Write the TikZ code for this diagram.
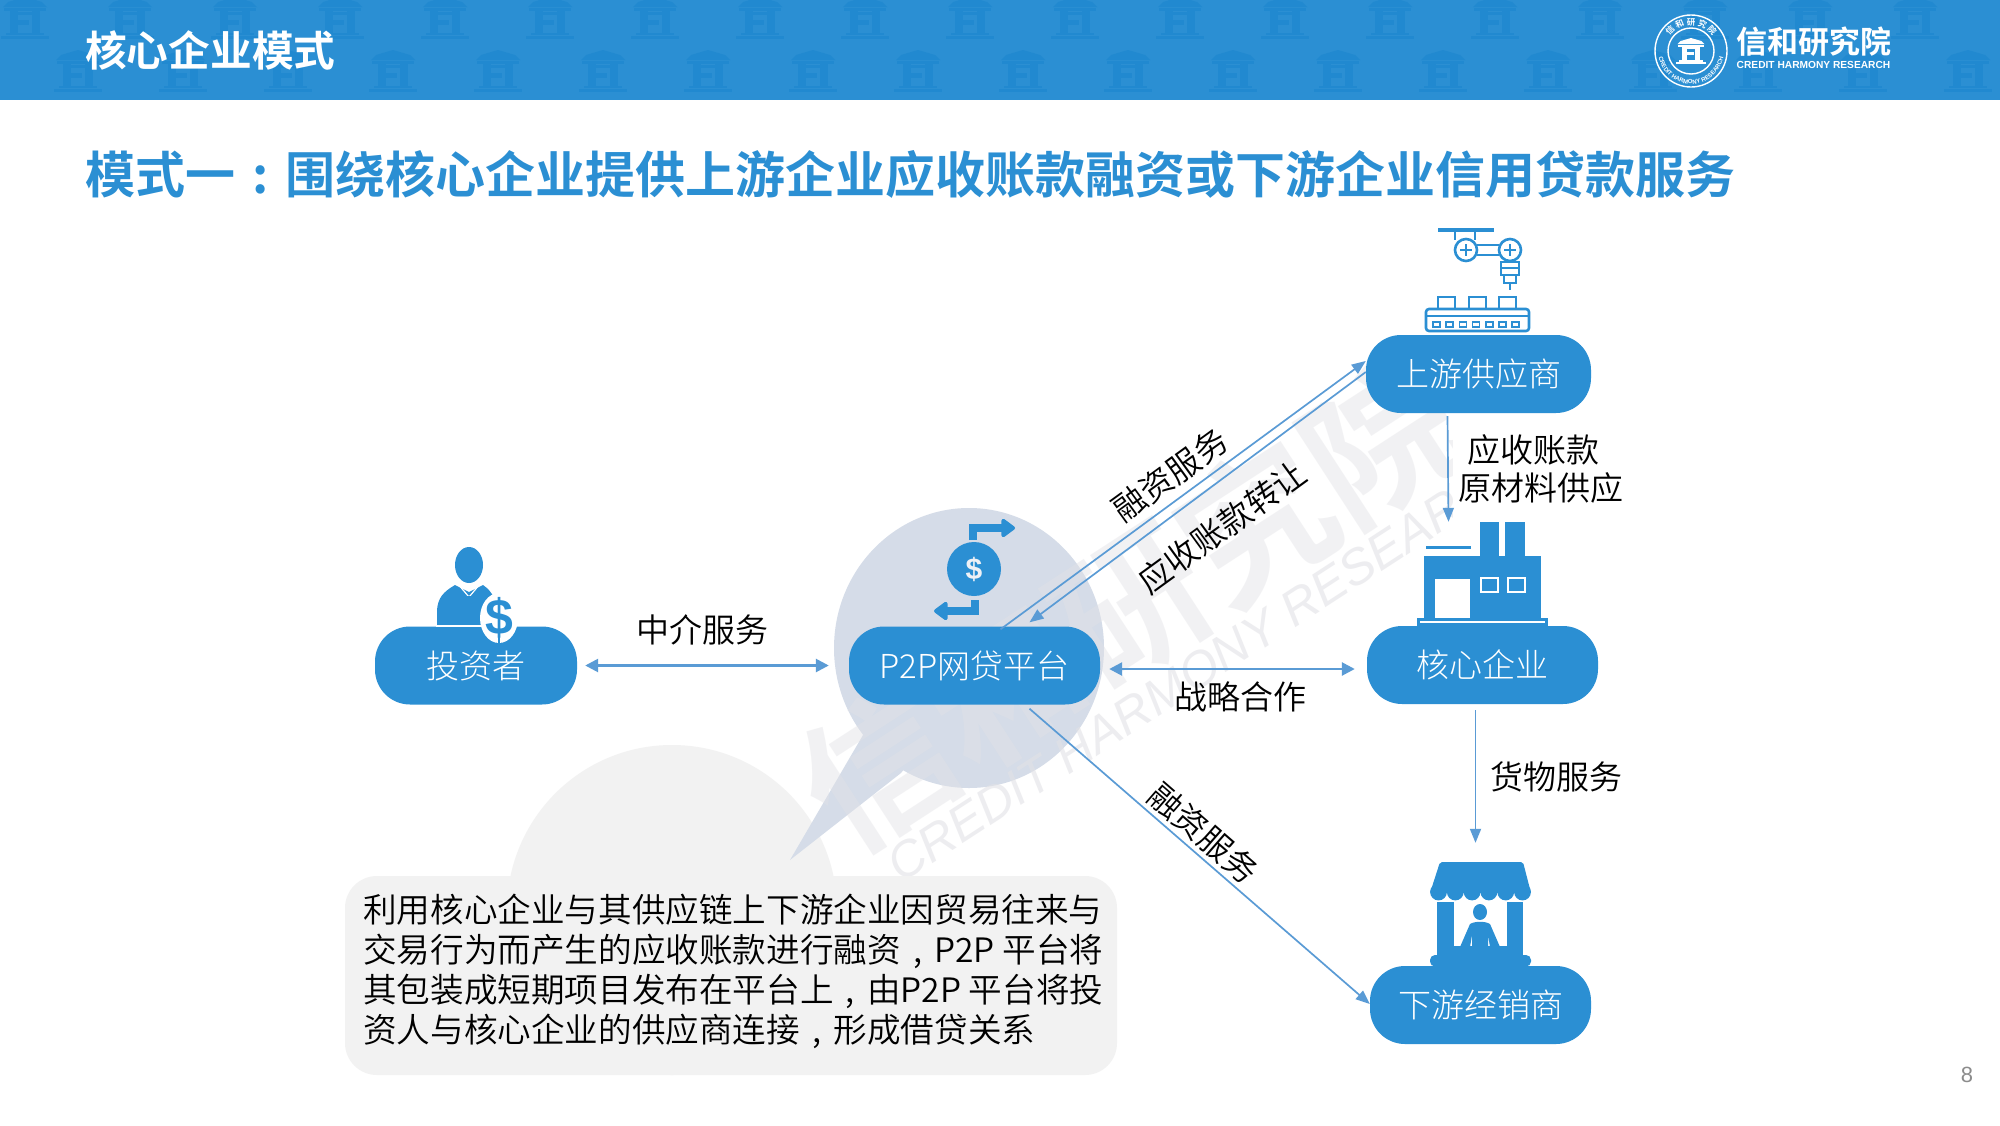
\documentclass[tikz,border=0pt]{standalone}
\usepackage{fontspec}
\setmainfont{Noto Sans CJK SC}[UprightFont=* Light,BoldFont=* Bold]
\newfontfamily\cjkmid{Noto Sans CJK SC DemiLight}
\newfontfamily\latinfont{Liberation Sans}
\usetikzlibrary{arrows.meta,calc,decorations.text}
\definecolor{brand}{HTML}{2B8FD3}
\definecolor{templecol}{HTML}{2189D0}
\definecolor{conn}{HTML}{5A9BD5}
\definecolor{bubble}{HTML}{D5DCE8}
\definecolor{panel}{HTML}{F2F2F2}
\definecolor{wm}{HTML}{E2E2E6}
\newcommand{\fs}[1]{\fontsize{#1}{#1}\selectfont}
\newcommand{\cjkp}[1]{\makebox[1em][c]{#1}}
\tikzset{
  pill/.style={fill=brand,text=white,rounded corners=35pt,minimum height=78pt,inner sep=0pt,font=\fs{33}},
  lab/.style={text=black,inner sep=0pt,font=\cjkmid\fs{33}},
  thinarrow/.style={draw=conn,line width=1.7pt,-{Triangle[length=14pt,width=11pt]}},
  thickarrow/.style={draw=conn,line width=2.6pt,{Triangle[length=13pt,width=13pt]}-{Triangle[length=13pt,width=13pt]}},
  icon/.style={draw=brand,line width=2.6pt},
  temple/.pic={
    \fill[pic actions] (-22,10) -- (-17,5) -- (0,0) -- (17,5) -- (22,10) -- cycle;
    \fill[pic actions] (-21,11) rectangle (21,14);
    \fill[pic actions] (-15,14) rectangle (-7,36);
    \fill[pic actions] (7,14) rectangle (15,36);
    \fill[pic actions] (-7,23) rectangle (4,28);
    \fill[pic actions] (-7,15) rectangle (7,18);
    \fill[pic actions] (-19,36) rectangle (19,38);
    \fill[pic actions] (-24,39) rectangle (24,42);
  }
}
\begin{document}
\begin{tikzpicture}[x=1pt,y=-1pt]
\useasboundingbox (0,0) rectangle (2000,1125);
\fill[white] (0,0) rectangle (2000,1125);
% header
\fill[brand] (0,0) rectangle (2000,100);
\foreach \k in {0,...,18} {
  \pic[fill=templecol] at ({25+105*\k},-3) {temple};
  \pic[fill=templecol] at ({78+105*\k},50) {temple};
}
\node[text=white,anchor=west,inner sep=0pt,font=\fs{41.7}\bfseries] (htitle) at (85,50) {核心企业模式};
% logo
\draw[white,line width=1.4pt] (1691,51) circle[radius=36];
\draw[white,line width=1.4pt] (1691,51) circle[radius=23];
\pic[fill=white,scale=0.62] at (1691,38) {temple};
\begin{scope}[shift={(1691,51)},y=1pt]
\path[decorate,decoration={text along path,text align=center,
  text={|\fs{8.5}\bfseries\color{white}|信 和 研 究 院}}]
  (150:26) arc[start angle=150,end angle=30,radius=26];
\path[decorate,decoration={text along path,text align=center,
  text={|\latinfont\fs{6}\bfseries\color{white}|CREDIT HARMONY RESEARCH}}]
  (195:33) arc[start angle=195,end angle=345,radius=33];
\end{scope}
\node[text=white,anchor=center,inner sep=0pt,font=\fs{31}\bfseries] (lname) at (1813.5,42) {信和研究院};
\node[text=white,anchor=center,inner sep=0pt,font=\latinfont\fs{10.2}\bfseries] (lsub) at (1813.5,65) {CREDIT HARMONY RESEARCH};
% subtitle
\node[text=brand,anchor=west,inner sep=0pt,font=\fs{50}\bfseries] (stitle) at (85,174) {模式一\cjkp{:}围绕核心企业提供上游企业应收账款融资或下游企业信用贷款服务};
% callout backdrop
\fill[panel] (672,910) circle[radius=165];
\fill[bubble] (969,648) ellipse[x radius=135,y radius=140];
\fill[bubble] (863,735) -- (790,860) -- (901,773) -- (960,700) -- cycle;
% watermark
\begin{scope}
\clip (0,0) rectangle (1452,1125);
\node[text=wm,opacity=.45,rotate=33,inner sep=0pt,font=\fs{150}\bfseries] (wma) at (1130,605) {信和研究院};
\node[text=wm,opacity=.6,rotate=33,inner sep=0pt,font=\latinfont\fs{50}\itshape] (wmb) at (1205,666) {CREDIT HARMONY RESEARCH};
\end{scope}
\node[fill=panel,rounded corners=32pt,minimum width=772pt,minimum height=199pt,inner sep=0pt] (panelbox) at (731,975.5) {};
\node[anchor=north west,inner sep=0pt,align=left,font=\cjkmid\fontsize{33.6}{40}\selectfont] (body) at (363,894) {利用核心企业与其供应链上下游企业因贸易往来与\\交易行为而产生的应收账款进行融资\cjkp{,}P2P 平台将\\其包装成短期项目发布在平台上\cjkp{,}由P2P 平台将投\\资人与核心企业的供应商连接\cjkp{,}形成借贷关系};
% nodes
\node[pill,minimum width=202pt] (inv) at (476,665.5) {投资者};
\node[pill,minimum width=251pt] (p2p) at (974.5,665.5) {P2P网贷平台};
\node[pill,minimum width=231pt] (core) at (1482.5,665) {核心企业};
\node[pill,minimum width=225pt] (up) at (1478.5,374) {上游供应商};
\node[pill,minimum width=221pt] (down) at (1480.5,1005) {下游经销商};
% connectors
\draw[thickarrow,shorten <=8pt,shorten >=20pt] (inv.east) -- (p2p.west);
\draw[thickarrow,shorten <=9pt,shorten >=12pt] ($(p2p.east)+(0,3.5)$) -- ($(core.west)+(0,4)$);
\draw[thinarrow] ($(p2p.north)+(26,3)$) -- ($(up.west)+(0,-13)$);
\draw[thinarrow] ($(up.west)+(0,-2)$) -- ($(p2p.north)+(55,-4)$);
\draw[thinarrow] ($(up.south)+(-31,3)$) -- ($(core.north)+(-34,-104)$);
\draw[thinarrow] ($(core.south)+(-7,6)$) -- ($(down.north)+(-5,-123)$);
\draw[thinarrow] ($(p2p.south)+(55,4)$) -- ($(down.west)+(0,-1)$);
% labels
\node[lab] (l1) at (702,630) {中介服务};
\node[lab] (l2) at (1240,697) {战略合作};
\node[lab,rotate=36] (l3) at (1170,475) {融资服务};
\node[lab,rotate=36] (l4) at (1222,527) {应收账款转让};
\node[lab,rotate=-41] (l5) at (1204,833) {融资服务};
\node[lab] (l6) at (1533,450) {应收账款};
\node[lab] (l7) at (1541,488) {原材料供应};
\node[lab] (l8) at (1556,777) {货物服务};
\node[text=gray!90,inner sep=0pt,font=\latinfont\fs{22}] (pnum) at (1967,1075) {8};
% investor icon
\fill[brand] (469,565) ellipse[x radius=14,y radius=18];
\fill[brand] (437,625) -- (437,610) .. controls (438,598) and (443,592) .. (455,585) -- (469,592) -- (483,585) .. controls (493,592) and (497,600) .. (500,625) -- cycle;
\draw[white,line width=1.2pt] (458,584) -- (469,597) -- (480,584);
\fill[brand] (466,596) -- (472,596) -- (473,612) -- (469,618) -- (465,612) -- cycle;
\draw[white,line width=1.2pt] (436,626) -- (485,626);
\fill[white] (499,618) ellipse[x radius=19,y radius=25];
\node[text=brand,inner sep=0pt,font=\latinfont\fs{50}\bfseries] (invd) at (499,618) {\$};
\fill[brand] (498,636) rectangle (500,643);
% p2p icon
\fill[brand] (974,569) circle[radius=27];
\node[text=bubble!40!white,inner sep=0pt,font=\latinfont\fs{30}\bfseries] (p2pd) at (974,569) {\$};
\draw[brand,line width=8pt,-{Triangle[length=15pt,width=21pt,round]}] (973,540) -- (973,528) -- (1015,528);
\draw[brand,line width=8pt,-{Triangle[length=15pt,width=21pt,round]}] (975,600) -- (975,611) -- (934,611);
% factory icon
\fill[brand] (1424,556) rectangle (1541,618);
\fill[brand] (1480,522) rectangle (1499,556);
\fill[brand] (1505,522) rectangle (1525,556);
\fill[brand] (1426,546) rectangle (1471,548.5);
\fill[white] (1435,579) rectangle (1470,618);
\draw[white,line width=2pt] (1481,578) rectangle (1498,592);
\draw[white,line width=2pt] (1508,578) rectangle (1525,592);
\fill[brand] (1417,618) rectangle (1548,625.5);
\fill[white] (1420,620.5) rectangle (1545,623);
% robot icon
\fill[brand] (1438,228) rectangle (1494,232);
\draw[icon] (1455,232) -- (1455,240) (1475,232) -- (1475,240);
\draw[icon] (1466,250) circle[radius=11];
\draw[icon] (1510,250) circle[radius=11];
\draw[icon] (1477,245) -- (1499,245) (1477,255) -- (1499,255);
\draw[icon] (1460,250) -- (1472,250) (1466,244) -- (1466,256);
\draw[icon] (1504,250) -- (1516,250) (1510,244) -- (1510,256);
\draw[icon] (1501,262) rectangle (1519,275) (1501,268) -- (1519,268);
\draw[icon] (1504,275) rectangle (1516,283) (1510,283) -- (1510,290);
\draw[icon] (1438,308) -- (1438,297) -- (1455,297) -- (1455,308);
\draw[icon] (1469,308) -- (1469,297) -- (1486,297) -- (1486,308);
\draw[icon] (1499,308) -- (1499,297) -- (1516,297) -- (1516,308);
\draw[icon,rounded corners=3pt] (1426,309) -- (1529,309) -- (1529,331) -- (1426,331) -- cycle;
\draw[icon] (1426,316) -- (1529,316);
\foreach \k in {0,...,6} { \draw[brand,line width=1.6pt] ({1433+13.2*\k},322) rectangle ++(7,5); }
% store icon
\fill[brand,rounded corners=2pt] (1440,862) -- (1523,862) -- (1531,893) -- (1430,893) -- cycle;
\foreach \k in {0,...,5} { \fill[brand] ({1438.5+16.8*\k},892) circle[radius=8.4]; }
\fill[brand] (1437,902) rectangle (1454,957);
\fill[brand] (1507,902) rectangle (1523,957);
\fill[brand] (1454,946) rectangle (1507,957);
\fill[brand,rounded corners=5pt] (1430,955) rectangle (1531,966.5);
\fill[brand] (1480,912) ellipse[x radius=7,y radius=8];
\fill[brand] (1460,947) -- (1470,924) .. controls (1475,921) and (1485,921) .. (1490,924) -- (1500,947) -- (1490,947) -- (1488,935) -- (1488,947) -- (1472,947) -- (1472,935) -- (1470,947) -- cycle;
\end{tikzpicture}
\end{document}
